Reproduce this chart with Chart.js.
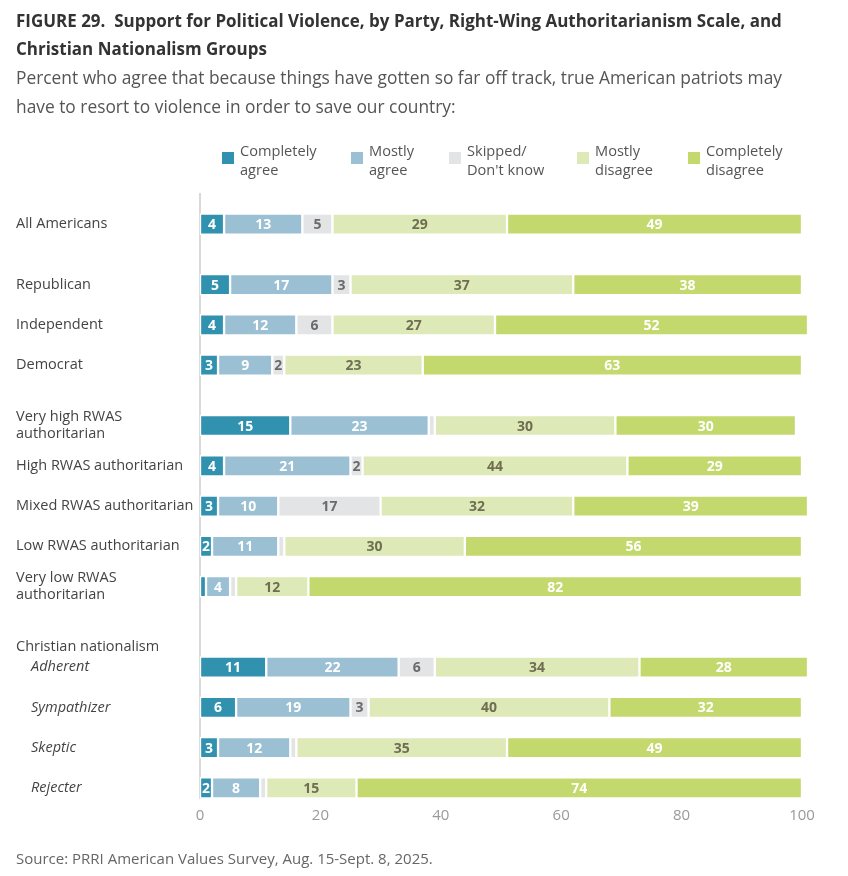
<!DOCTYPE html>
<html>
<head>
<meta charset="utf-8">
<script src="https://cdn.jsdelivr.net/npm/chart.js@4.4.1/dist/chart.umd.min.js"></script>
<style>
  html, body { margin:0; padding:0; background:#fff; }
  body { width:848px; height:876px; position:relative; overflow:hidden; font-family:"Open Sans", sans-serif; }
  .line { position:absolute; left:16px; white-space:nowrap; transform-origin:0 50%; line-height:28px; }
  .title { font-weight:700; font-size:18.5px; color:#333; }
  .sub { font-size:18px; color:#555; }
  #chartWrap { position:absolute; left:0; top:0; width:848px; height:876px; }
  .leg { position:absolute; top:141px; font-size:14.6px; color:#555; line-height:19px; }
  .leg .box { position:absolute; left:0; top:11px; width:12px; height:12px; }
  .leg .txt { position:absolute; left:18px; top:0; white-space:nowrap; }
  #source { position:absolute; left:16px; top:848px; font-size:15px; color:#666; white-space:nowrap; }
</style>
</head>
<body>
<div id="chartWrap"><canvas id="c" width="848" height="876"></canvas></div>
<div class="line title" id="t1" style="top:6px">FIGURE 29.&nbsp; Support for Political Violence, by Party, Right-Wing Authoritarianism Scale, and</div>
<div class="line title" id="t2" style="top:34px">Christian Nationalism Groups</div>
<div class="line sub" id="s1" style="top:63px">Percent who agree that because things have gotten so far off track, true American patriots may</div>
<div class="line sub" id="s2" style="top:92px">have to resort to violence in order to save our country:</div>
<div id="legend"></div>
<div id="source">Source: PRRI American Values Survey, Aug. 15-Sept. 8, 2025.</div>
<script>
// ---------------- DATA ----------------
const groupHeaders = [null, null, null, 'Christian nationalism'];
const groupRows = [
  ['All Americans'],
  ['Republican', 'Independent', 'Democrat'],
  [['Very high RWAS', 'authoritarian'], 'High RWAS authoritarian', 'Mixed RWAS authoritarian', 'Low RWAS authoritarian', ['Very low RWAS', 'authoritarian']],
  ['Adherent', 'Sympathizer', 'Skeptic', 'Rejecter']
];
const seriesNames = [['Completely', 'agree'], ['Mostly', 'agree'], ['Skipped/', "Don't know"], ['Mostly', 'disagree'], ['Completely', 'disagree']];
const completelyAgree    = [4, 5, 4, 3, 15, 4, 3, 2, 1, 11, 6, 3, 2];
const mostlyAgree        = [13, 17, 12, 9, 23, 21, 10, 11, 4, 22, 19, 12, 8];
const skippedDontKnow    = [5, 3, 6, 2, 1, 2, 17, 1, 1, 6, 3, 1, 1];
const mostlyDisagree     = [29, 37, 27, 23, 30, 44, 32, 30, 12, 34, 40, 35, 15];
const completelyDisagree = [49, 38, 52, 63, 30, 29, 39, 56, 82, 28, 32, 49, 74];
const xTicks = [0, 20, 40, 60, 80, 100];

// ---------------- STYLE ----------------
const barColors   = ['#3192b0', '#9bbfd3', '#e3e4e6', '#dde9b6', '#c3d96e'];
const labelColors = ['#ffffff', '#ffffff', '#6e6a6a', '#6f6e52', '#ffffff'];
const MIN_LABEL = 2;

// ---------------- LAYOUT (slots) ----------------
// each row uses 2 half-row slots; groups separated by 3 slots; header one slot above first row
const slotLabels = [''];
const slotItalic = [false];
const rowSlot = [];
groupRows.forEach((rows, gi) => {
  if (gi > 0) { slotLabels.push(''); slotItalic.push(false); }
  if (groupHeaders[gi]) { slotLabels.push(''); slotItalic.push(false); slotLabels.push(groupHeaders[gi]); slotItalic.push(false); }
  rows.forEach((r, ri) => {
    if (ri > 0 || gi > 0) {
      if (!(groupHeaders[gi] && ri === 0)) { slotLabels.push(''); slotItalic.push(false); }
    }
    const italic = !!groupHeaders[gi];
    rowSlot.push(slotLabels.length);
    slotLabels.push(italic ? (Array.isArray(r) ? r.map(s => '    ' + s) : '    ' + r) : r);
    slotItalic.push(italic);
  });
});
const seriesData = [completelyAgree, mostlyAgree, skippedDontKnow, mostlyDisagree, completelyDisagree];
const toSlots = (arr) => { const out = slotLabels.map(() => null); arr.forEach((v, i) => out[rowSlot[i]] = v); return out; };

// ---------------- LEGEND (HTML) ----------------
const legX = [222, 351, 449, 577, 688];
const legend = document.getElementById('legend');
seriesNames.forEach((n, i) => {
  const d = document.createElement('div');
  d.className = 'leg';
  d.style.left = legX[i] + 'px';
  d.innerHTML = '<div class="box" style="background:' + barColors[i] + '"></div><div class="txt">' + n.join('<br>') + '</div>';
  legend.appendChild(d);
});

// scale condensed headline text to match original widths
function fit(ids, target) {
  const w = document.getElementById(ids[0]).scrollWidth;
  const s = target / w;
  ids.forEach(id => document.getElementById(id).style.transform = 'scaleX(' + s + ')');
}
fit(['t1', 't2'], 766);
fit(['s1', 's2'], 766);

// ---------------- VALUE LABEL PLUGIN ----------------
const valueLabels = {
  id: 'valueLabels',
  afterDatasetsDraw(chart) {
    const ctx = chart.ctx;
    ctx.save();
    ctx.font = 'bold 14px "Open Sans", sans-serif';
    ctx.textAlign = 'center';
    ctx.textBaseline = 'middle';
    chart.data.datasets.forEach((ds, di) => {
      const meta = chart.getDatasetMeta(di);
      meta.data.forEach((el, i) => {
        const v = ds.data[i];
        if (v == null || v < MIN_LABEL) return;
        const p = el.getProps(['x', 'y', 'base'], true);
        ctx.fillStyle = labelColors[di];
        ctx.fillText(String(v), (p.x + p.base) / 2, p.y + 1);
      });
    });
    ctx.restore();
  }
};

new Chart(document.getElementById('c'), {
  type: 'bar',
  data: {
    labels: slotLabels,
    datasets: seriesData.map((arr, i) => ({
      label: seriesNames[i].join(' '),
      data: toSlots(arr),
      backgroundColor: barColors[i],
      borderColor: '#ffffff',
      borderWidth: 1.5,
      borderSkipped: false,
      barThickness: 21,
      clip: false
    }))
  },
  options: {
    indexAxis: 'y',
    responsive: false,
    animation: false,
    devicePixelRatio: 1,
    layout: { padding: { left: 16, right: 46, top: 194, bottom: 0 } },
    plugins: { legend: { display: false }, tooltip: { enabled: false } },
    scales: {
      x: {
        stacked: true,
        min: 0, max: 100,
        afterBuildTicks: (s) => { s.ticks = xTicks.map(v => ({ value: v })); },
        afterFit: (s) => { s.height = 78; },
        grid: { display: false, drawTicks: false },
        border: { display: false },
        ticks: { color: '#9a9a9a', font: { size: 15, family: '"Open Sans", sans-serif' }, padding: 9 }
      },
      y: {
        stacked: true,
        afterFit: (s) => { s.width = 184; },
        grid: { display: false, drawTicks: false },
        border: { display: true, color: '#d9d9d9', width: 2 },
        ticks: {
          autoSkip: false,
          crossAlign: 'far',
          color: '#444',
          font: (c) => ({ size: 14.5, family: '"Open Sans", sans-serif', style: slotItalic[c.index] ? 'italic' : 'normal', lineHeight: 1.15 })
        }
      }
    }
  },
  plugins: [valueLabels]
});
</script>
</body>
</html>
